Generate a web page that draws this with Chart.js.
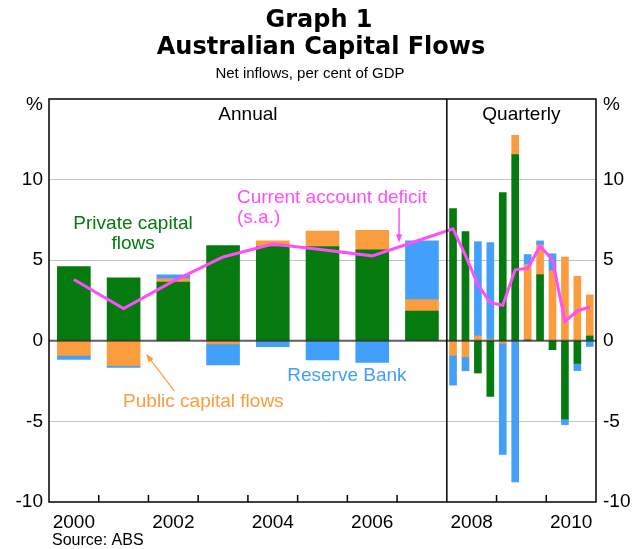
<!DOCTYPE html>
<html>
<head>
<meta charset="utf-8">
<script src="https://cdn.jsdelivr.net/npm/chart.js@4.4.1/dist/chart.umd.min.js"></script>
<style>
  html, body { margin: 0; padding: 0; background: #fff; }
  #wrap { width: 633px; height: 549px; position: relative; }
</style>
</head>
<body>
<div id="wrap"><canvas id="chart"></canvas></div>
<script>
// annual data, per cent of GDP
const annualYears = [2000, 2001, 2002, 2003, 2004, 2005, 2006, 2007];
const annualPrivate = [4.6, 3.9, 3.65, 5.9, 5.85, 5.85, 5.65, 1.85];
const annualPublic = [-0.9, -1.55, 0.2, -0.2, 0.35, 0.95, 1.2, 0.7];
const annualReserve = [-0.25, -0.1, 0.25, -1.3, -0.37, -1.18, -1.34, 3.65];
const annualCAD = [3.8, 2.0, 3.7, 5.2, 6.0, 5.65, 5.27, 6.3];

// quarterly data
const quarters = ['2008Q1', '2008Q2', '2008Q3', '2008Q4', '2009Q1', '2009Q2',
                  '2009Q3', '2009Q4', '2010Q1', '2010Q2', '2010Q3', '2010Q4'];
const qPrivate = [8.2, 6.77, -2.0, -3.45, 9.2, 11.55, 0.05, 4.1, -0.55, -4.85, -1.4, 0.3];
const qPublic = [-0.9, -1.0, 0.3, 0.1, -0.15, 1.2, 4.7, 1.85, 4.35, 5.2, 4.0, 2.55];
const qReserve = [-1.85, -0.86, 5.85, 6.0, -6.9, -8.75, 0.6, 0.25, 1.05, -0.35, -0.45, -0.35];
const qCAD = [6.95, 5.3, 3.48, 2.36, 2.2, 4.4, 4.5, 5.86, 5.03, 1.2, 1.86, 2.1];

const xTickLabels = ['2000', '2002', '2004', '2006', '2008', '2010'];
const yTicks = [-10, -5, 0, 5, 10, 15];

const GREEN = '#047a0f', ORANGE = '#fb9d3f', BLUE = '#42a0fb', PINK = '#ff4dff';
const FONT = '"Liberation Sans", Arial, sans-serif';

// positions on the time axis
const yearX = y => y + 0.5;
const quarterX = q => Number(q.slice(0, 4)) + (Number(q.slice(5)) - 0.5) / 4;

const annualPts = vals => annualYears.map((y, i) => ({ x: yearX(y), y: vals[i] }));
const quarterPts = vals => quarters.map((q, i) => ({ x: quarterX(q), y: vals[i] }));

function barSet(data, color, thick) {
  return { type: 'bar', data, backgroundColor: color, barThickness: thick, order: 2 };
}

function arrow(ctx, x1, y1, x2, y2, color, width) {
  const ang = Math.atan2(y2 - y1, x2 - x1);
  const hl = 9;
  ctx.strokeStyle = color;
  ctx.fillStyle = color;
  ctx.lineWidth = width;
  ctx.beginPath();
  ctx.moveTo(x1, y1);
  ctx.lineTo(x2 - Math.cos(ang) * hl * 0.6, y2 - Math.sin(ang) * hl * 0.6);
  ctx.stroke();
  ctx.beginPath();
  ctx.moveTo(x2, y2);
  ctx.lineTo(x2 - hl * Math.cos(ang - 0.35), y2 - hl * Math.sin(ang - 0.35));
  ctx.lineTo(x2 - hl * Math.cos(ang + 0.35), y2 - hl * Math.sin(ang + 0.35));
  ctx.closePath();
  ctx.fill();
}

const overlay = {
  id: 'overlay',
  afterDatasetsDraw(chart) {
    const { ctx, chartArea: a, scales: { x, y } } = chart;
    const X = v => x.getPixelForValue(v), Y = v => y.getPixelForValue(v);
    ctx.save();

    // zero line over the bars
    ctx.strokeStyle = 'rgba(40,40,40,0.75)';
    ctx.lineWidth = 2;
    ctx.beginPath();
    ctx.moveTo(a.left, Y(0));
    ctx.lineTo(a.right, Y(0));
    ctx.stroke();

    // annual / quarterly divider, tick marks, frame
    ctx.strokeStyle = '#000';
    ctx.lineWidth = 1.5;
    ctx.beginPath();
    ctx.moveTo(X(2008), a.top);
    ctx.lineTo(X(2008), a.bottom);
    for (let yr = 2001; yr <= 2010; yr++) {
      if (yr === 2008) continue;
      ctx.moveTo(X(yr), a.bottom);
      ctx.lineTo(X(yr), a.bottom - 7);
    }
    ctx.stroke();
    ctx.strokeRect(a.left, a.top, a.width, a.height);

    // titles
    ctx.textAlign = 'center';
    ctx.textBaseline = 'middle';
    ctx.fillStyle = '#000';
    ctx.font = 'bold 24px "DejaVu Sans", Verdana, sans-serif';
    ctx.fillText('Graph 1', 319, 21);
    ctx.fillText('Australian Capital Flows', 321, 48);
    ctx.font = '15px ' + FONT;
    ctx.fillText('Net inflows, per cent of GDP', 310, 74);

    ctx.font = '19px ' + FONT;
    ctx.fillText('Annual', X(2004), Y(14));
    ctx.fillText('Quarterly', X(2009.5), Y(14));
    ctx.textAlign = 'right';
    ctx.fillText('%', a.left - 6, 105);
    ctx.textAlign = 'left';
    ctx.fillText('%', a.right + 7, 105);

    ctx.font = '16px ' + FONT;
    ctx.fillText('Source: ABS', 52, 541);

    // series labels
    ctx.font = '19px ' + FONT;
    ctx.textAlign = 'center';
    ctx.fillStyle = GREEN;
    ctx.fillText('Private capital', X(2001.69), Y(7.27));
    ctx.fillText('flows', X(2001.69), Y(6.02));

    ctx.textAlign = 'left';
    ctx.fillStyle = PINK;
    ctx.fillText('Current account deficit', X(2003.78), Y(8.88));
    ctx.fillText('(s.a.)', X(2003.78), Y(7.64));
    arrow(ctx, X(2007.04), Y(8.26), X(2007.04), Y(6.09), PINK, 1.5);

    ctx.fillStyle = BLUE;
    ctx.fillText('Reserve Bank', X(2004.79), Y(-2.17));

    ctx.fillStyle = ORANGE;
    ctx.fillText('Public capital flows', X(2001.49), Y(-3.79));
    arrow(ctx, X(2002.52), Y(-3.1), X(2001.95), Y(-0.81), ORANGE, 1.2);

    ctx.restore();
  }
};

new Chart(document.getElementById('chart'), {
  data: {
    datasets: [
      { type: 'line', data: annualPts(annualCAD).concat(quarterPts(qCAD)),
        borderColor: PINK, borderWidth: 3, pointRadius: 0, tension: 0,
        stack: 'cad', order: 0 },
      barSet(annualPts(annualPrivate), GREEN, 33),
      barSet(annualPts(annualPublic), ORANGE, 33),
      barSet(annualPts(annualReserve), BLUE, 33),
      barSet(quarterPts(qPrivate), GREEN, 7),
      barSet(quarterPts(qPublic), ORANGE, 7),
      barSet(quarterPts(qReserve), BLUE, 7)
    ]
  },
  options: {
    responsive: true,
    maintainAspectRatio: false,
    animation: false,
    layout: { padding: { top: 99, left: 0, right: 0, bottom: 0 } },
    plugins: { legend: { display: false }, tooltip: { enabled: false } },
    scales: {
      x: {
        type: 'linear', min: 2000, max: 2011, stacked: true, offset: false,
        afterBuildTicks: s => { s.ticks = xTickLabels.map(l => ({ value: yearX(Number(l)) })); },
        afterFit: s => { s.height = 47; },
        grid: { display: false, offset: false },
        border: { display: false },
        ticks: {
          padding: 1, color: '#000', font: { family: FONT, size: 19 },
          maxRotation: 0, autoSkip: false,
          callback: v => String(Math.floor(v))
        }
      },
      y: {
        position: 'left', min: -10, max: 15, stacked: true,
        afterBuildTicks: s => { s.ticks = yTicks.map(v => ({ value: v })); },
        afterFit: s => { s.width = 49; },
        border: { display: false },
        grid: {
          drawTicks: false,
          color: c => [10, 5, -5].includes(c.tick.value) ? '#c4c4c4' : 'transparent',
          lineWidth: 1
        },
        ticks: {
          padding: 6, color: '#000', font: { family: FONT, size: 19 },
          callback: v => v === 15 ? '' : v
        }
      },
      y2: {
        position: 'right', min: -10, max: 15,
        afterBuildTicks: s => { s.ticks = yTicks.map(v => ({ value: v })); },
        afterFit: s => { s.width = 37; },
        border: { display: false },
        grid: { display: false, drawTicks: false },
        ticks: {
          padding: 7, color: '#000', font: { family: FONT, size: 19 },
          callback: v => v === 15 ? '' : v
        }
      }
    }
  },
  plugins: [overlay]
});
</script>
</body>
</html>
